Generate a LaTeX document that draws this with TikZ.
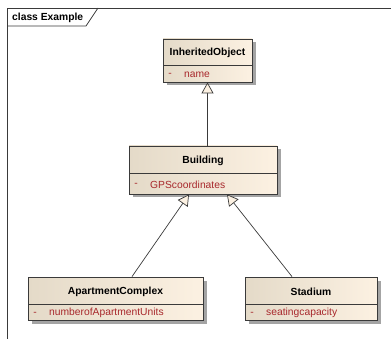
\documentclass[tikz,border=0pt]{standalone}
\usepackage{fontspec}
\setmainfont{Liberation Sans}
\usepackage{tikz}
\usetikzlibrary{arrows.meta,calc}
\definecolor{frm}{HTML}{3A3A3A}
\definecolor{bl}{HTML}{E4DAC8}
\definecolor{br}{HTML}{FCF1E2}
\definecolor{attr}{HTML}{A8282C}
\definecolor{shd}{HTML}{A4A4A4}

\begin{document}
\begin{tikzpicture}[x=1pt,y=-1pt,every node/.style={font=\fontsize{10.3}{12}\selectfont,inner sep=0pt},
  umlclass/.style={draw=frm,line width=.8pt,left color=bl,right color=br,inner sep=0pt},
  gen/.style={-{Triangle[length=11pt,width=12pt,fill=br]},frm,line width=.7pt}]
\useasboundingbox (0,0) rectangle (391,339);
% frame
\draw[frm,line width=.8pt] (7,345)--(7,8)--(395,8);
\draw[frm,line width=.8pt] (7,26)--(86,26)--(98,8);
\node[anchor=west,font=\fontsize{10.3}{12}\selectfont\bfseries] (frmlbl) at (12,17.5) {class Example};
% classes
\foreach \n/\l/\t/\r/\b/\s/\ttl/\att in {obj/163/39/252/82/65/InheritedObject/name,
  bldg/129/146/277/194/173/Building/GPScoordinates,
  apt/28/277/203/320/304/ApartmentComplex/numberofApartmentUnits,
  stad/245/277/377/320/304/Stadium/seatingcapacity}{
\fill[shd] (\l+3.5,\t+3.5) rectangle (\r+3.5,\b+3.5);
\node[umlclass,minimum width={(\r-\l)*1pt},minimum height={(\b-\t)*1pt}] (\n) at ({(\l+\r)/2},{(\t+\b)/2}) {};
\draw[frm,line width=.8pt] (\l,\s)--(\r,\s);
\node[font=\fontsize{10.3}{12}\selectfont\bfseries] (\n-t) at ({(\l+\r)/2},{(\t+\s)/2+1}) {\ttl};
\node[text=attr] (\n-d) at (\l+7,{(\s+\b)/2+1.5}) {-};
\node[text=attr,anchor=west] (\n-a) at (\l+21,{(\s+\b)/2+1}) {\att};}
% generalizations
\draw[gen] (bldg.north -| obj.south)--(obj.south);
\draw[gen] ($(apt.north)+(16.5,0)$)--($(bldg.south)+(-14,0)$);
\draw[gen] ($(stad.north)+(-19,0)$)--($(bldg.south)+(24,0)$);
\end{tikzpicture}
\end{document}
